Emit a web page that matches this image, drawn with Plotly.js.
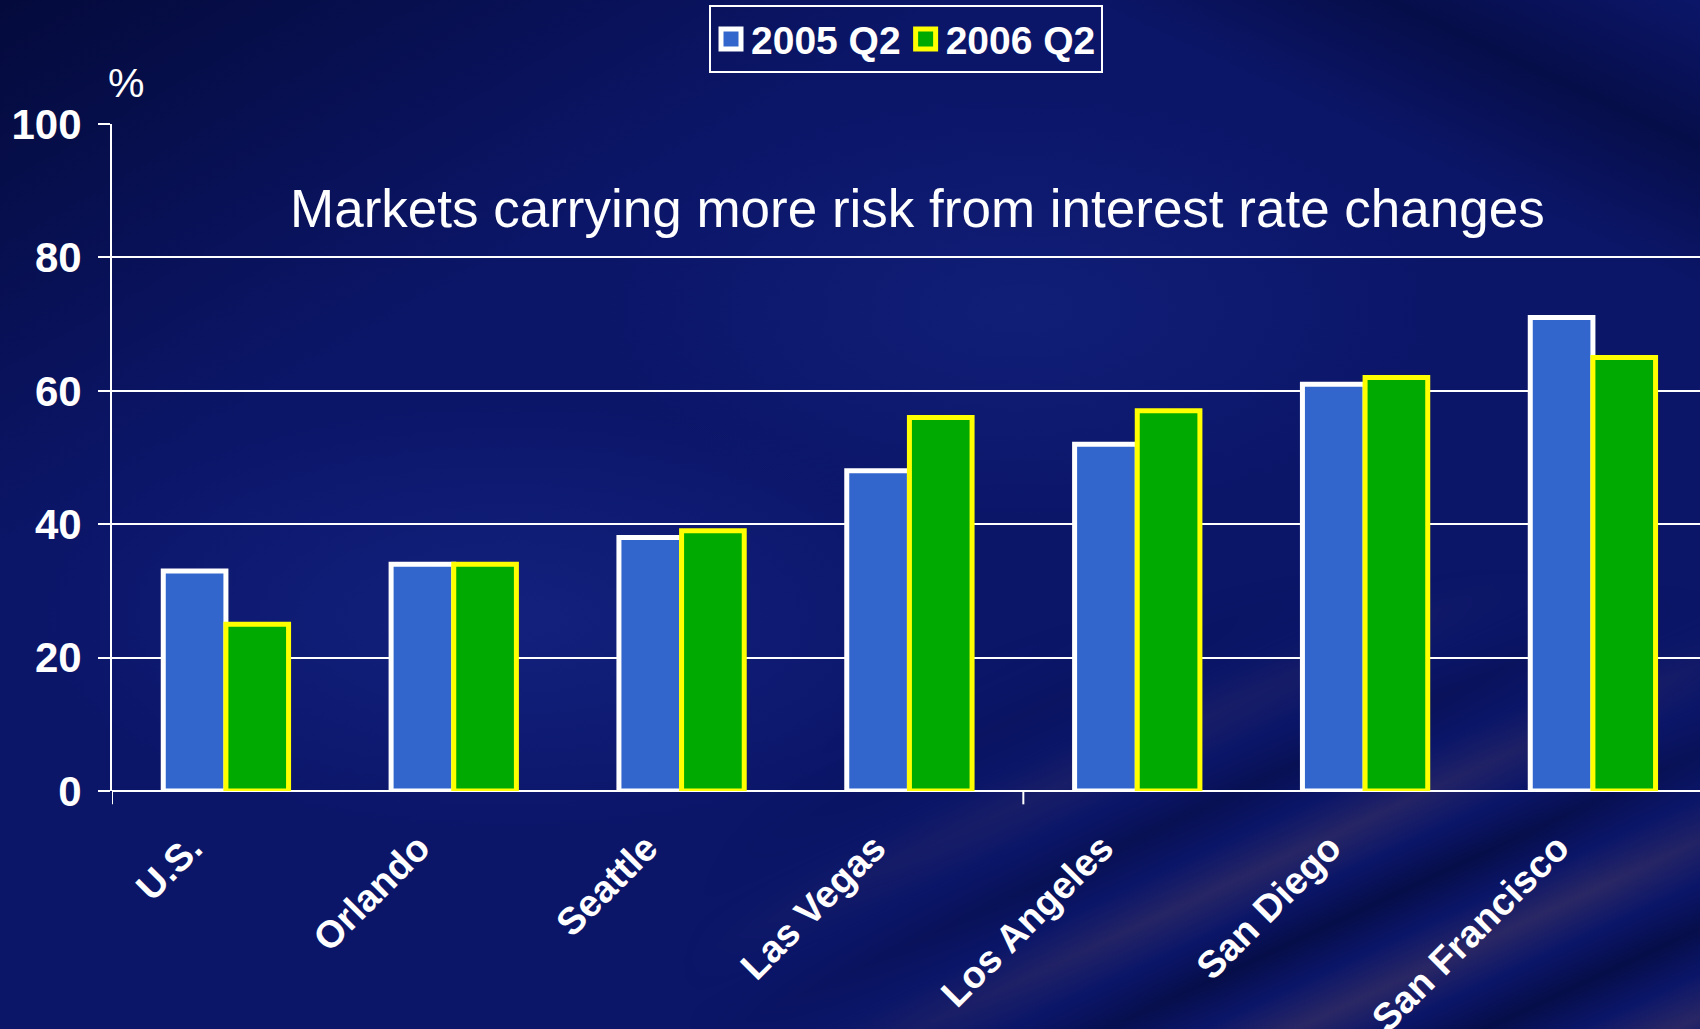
<!DOCTYPE html>
<html>
<head>
<meta charset="utf-8">
<script src="https://cdn.plot.ly/plotly-3.0.1.min.js"></script>
<style>
  html, body { margin:0; padding:0; width:1700px; height:1029px; overflow:hidden; }
  body {
    position: relative;
    background-color:#0b1669;
    background-image:
      linear-gradient(150deg, rgba(0,4,35,0.65) 0%, rgba(0,4,35,0.0) 28%),
      linear-gradient(205deg, rgba(0,4,35,0) 0%, rgba(0,4,35,0.45) 8%, rgba(0,4,35,0) 16%, rgba(0,4,35,0) 100%),
      radial-gradient(ellipse 40% 30% at 30% 60%, rgba(35,55,165,0.35), rgba(35,55,165,0) 70%),
      radial-gradient(ellipse 35% 30% at 60% 30%, rgba(30,50,150,0.30), rgba(30,50,150,0) 70%);
  }
  #streaks {
    position:absolute; left:0; top:0; width:1700px; height:1029px;
    background-image:
      repeating-linear-gradient(155deg, rgba(0,0,0,0) 0px, rgba(125,85,90,0.28) 40px, rgba(0,0,0,0) 80px, rgba(0,2,25,0.4) 120px, rgba(0,0,0,0) 160px);
    -webkit-mask-image: radial-gradient(ellipse 45% 40% at 85% 95%, #000 30%, transparent 100%);
    mask-image: radial-gradient(ellipse 45% 40% at 85% 95%, #000 30%, transparent 100%);
  }
  #chart { position:absolute; left:0; top:0; width:1700px; height:1029px; }
</style>
</head>
<body>
<div id="streaks"></div>
<div id="chart"></div>
<script>
const categories = ["U.S.", "Orlando", "Seattle", "Las Vegas", "Los Angeles", "San Diego", "San Francisco"];
const series2005 = [33, 34, 38, 48, 52, 61, 71];
const series2006 = [25, 34, 39, 56, 57, 62, 65];
const seriesNames = ["2005 Q2", "2006 Q2"];
const yTicks = [0, 20, 40, 60, 80, 100];
const annotationText = "Markets carrying more risk from interest rate changes";
const unitLabel = "%";

const FONT = 'Arial, "Liberation Sans", sans-serif';

const traces = [
  {
    type: 'bar', name: seriesNames[0], x: categories, y: series2005,
    marker: { color: '#3366CC', line: { color: '#FFFFFF', width: 5 } },
    hoverinfo: 'skip'
  },
  {
    type: 'bar', name: seriesNames[1], x: categories, y: series2006,
    marker: { color: '#00AA00', line: { color: '#FFFF00', width: 5 } },
    hoverinfo: 'skip'
  }
];

const layout = {
  width: 1700, height: 1029,
  margin: { l: 112, r: 0, t: 124, b: 238, pad: 0 },
  paper_bgcolor: 'rgba(0,0,0,0)',
  plot_bgcolor: 'rgba(0,0,0,0)',
  barmode: 'group', bargap: 0.45, bargroupgap: 0,
  font: { family: FONT, color: '#FFFFFF' },
  showlegend: true,
  xaxis: {
    type: 'category', range: [-0.5, 6.47],
    showgrid: false, showline: false, zeroline: false, ticks: '',
    tickangle: -45,
    tickfont: { family: FONT, size: 38, weight: 'bold', color: '#FFFFFF' },
    ticklabelstandoff: 26,
    ticklabelshift: -35
  },
  yaxis: {
    range: [0, 100], tickvals: yTicks, ticktext: yTicks.map(String),
    showgrid: true, gridcolor: '#FFFFFF', gridwidth: 2,
    showline: true, linecolor: '#FFFFFF', linewidth: 2,
    ticks: 'outside', ticklen: 12, tickwidth: 2, tickcolor: '#FFFFFF',
    zeroline: true, zerolinecolor: '#FFFFFF', zerolinewidth: 2,
    tickfont: { family: FONT, size: 42, weight: 'bold', color: '#FFFFFF' },
    ticklabelstandoff: 8
  },
  legend: {
    orientation: 'h', x: 0.5, xanchor: 'center', y: 1.178, yanchor: 'top',
    bgcolor: 'rgba(0,0,0,0)', bordercolor: '#FFFFFF', borderwidth: 2,
    font: { family: FONT, size: 39, weight: 'bold', color: '#FFFFFF' },
    itemwidth: 30, tracegroupgap: 0
  },
  annotations: [
    {
      text: annotationText, xref: 'paper', yref: 'y', x: 0.507, y: 87.3,
      xanchor: 'center', yanchor: 'middle', showarrow: false,
      font: { family: FONT, size: 53, color: '#FFFFFF' }
    },
    {
      text: unitLabel, xref: 'paper', yref: 'paper', x: 0.0088, y: 1.062,
      xanchor: 'center', yanchor: 'middle', showarrow: false,
      font: { family: FONT, size: 41, color: '#FFFFFF' }
    }
  ],
  shapes: [
    { type: 'line', xref: 'x', yref: 'paper', x0: -0.5, x1: -0.5, y0: 0, y1: -0.02, line: { color: '#FFFFFF', width: 2 } },
    { type: 'line', xref: 'x', yref: 'paper', x0: 3.5, x1: 3.5, y0: 0, y1: -0.02, line: { color: '#FFFFFF', width: 2 } }
  ]
};

Plotly.newPlot('chart', traces, layout, { staticPlot: true, displayModeBar: false }).then(function (gd) {
  // enlarge the legend swatches to match the reference's square keys
  gd.querySelectorAll('.legendpoints path').forEach(function (p) {
    p.setAttribute('d', 'M10,10H-10V-10H10Z');
  });
});
</script>
</body>
</html>
